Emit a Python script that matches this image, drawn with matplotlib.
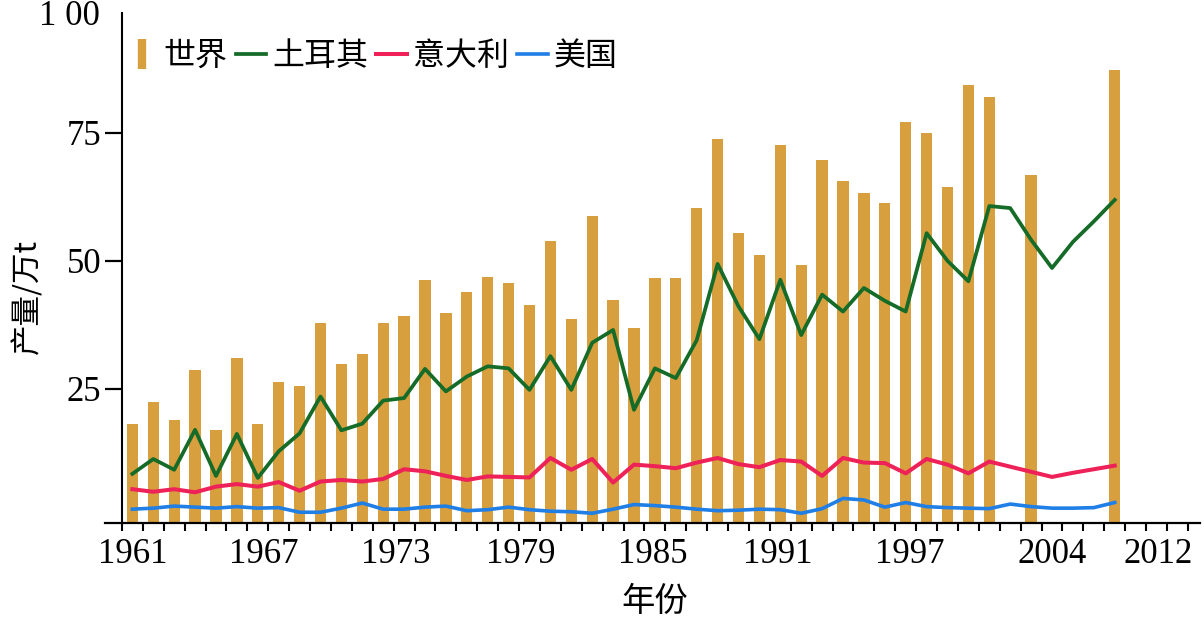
import matplotlib
matplotlib.use("Agg")
import matplotlib.pyplot as plt
from matplotlib.lines import Line2D
from matplotlib.font_manager import FontProperties
import numpy as np

# ---------------- data ----------------
world_years = list(range(1961, 2003)) + [2004, 2008]
world = [18.1, 22.5, 18.9, 28.7, 17.0, 31.1, 18.1, 26.3, 25.5, 37.8,
         29.9, 31.8, 37.8, 39.3, 46.3, 39.9, 44.0, 46.8, 45.6, 41.3,
         53.8, 38.6, 58.8, 42.4, 36.9, 46.7, 46.7, 60.3, 73.8, 55.5,
         51.2, 72.7, 49.2, 69.7, 65.5, 63.2, 61.3, 77.2, 74.9, 64.5,
         84.4, 82.0, 66.8, 87.3]

line_years = list(range(1961, 2009))
turkey = [8.4, 11.3, 9.2, 17.0, 8.0, 16.2, 7.6, 12.8, 16.3, 23.5,
          16.9, 18.2, 22.7, 23.2, 28.9, 24.5, 27.4, 29.4, 29.0, 24.8,
          31.4, 24.8, 34.0, 36.5, 20.9, 29.0, 27.1, 34.5, 49.4, 41.1,
          34.7, 46.3, 35.5, 43.4, 40.1, 44.7, 42.2, 40.1, 55.4, 50.0,
          46.0, 60.7, 60.3, 54.1, 48.6, 53.7, 57.7, 61.9]
italy = [5.4, 4.9, 5.4, 4.8, 5.9, 6.4, 5.9, 6.8, 5.1, 6.9,
         7.2, 6.9, 7.4, 9.3, 8.9, 8.0, 7.2, 7.9, 7.8, 7.7,
         11.5, 9.2, 11.3, 6.7, 10.2, 9.9, 9.5, 10.6, 11.5, 10.3,
         9.7, 11.1, 10.8, 8.0, 11.5, 10.6, 10.5, 8.5, 11.3, 10.2,
         8.5, 10.8, 9.8, 8.8, 7.8, 8.6, 9.3, 10.0]
usa = [1.5, 1.7, 2.1, 1.9, 1.7, 2.0, 1.7, 1.8, 0.9, 0.9,
       1.7, 2.7, 1.5, 1.5, 1.9, 2.1, 1.2, 1.4, 1.9, 1.4,
       1.1, 1.0, 0.7, 1.5, 2.4, 2.2, 1.9, 1.5, 1.2, 1.3,
       1.5, 1.4, 0.7, 1.6, 3.6, 3.3, 1.9, 2.8, 2.0, 1.8,
       1.7, 1.6, 2.5, 2.0, 1.7, 1.7, 1.8, 2.8]

series_names = ["世界", "土耳其", "意大利", "美国"]
x_tick_labels = ["1961", "1967", "1973", "1979", "1985", "1991", "1997", "2004", "2012"]
y_ticks = [25, 50, 75]
y_tick_labels = ["25", "50", "75"]
y_top_label = "1 00"
x_title = "年份"
y_title = "产量/万t"

# ---------------- style ----------------
BAR = "#D79F3E"
GREEN = "#156B28"
PINK = "#EE2158"
BLUE = "#1F7FE6"
NUM_FONT = "Liberation Serif"
CJK_FONT = "Noto Sans CJK SC"
plt.rcParams["font.family"] = [NUM_FONT, CJK_FONT, "DejaVu Sans"]

# label positions along the axis (as drawn in the reference)
x_tick_pos = [1961.0, 1967.3, 1973.6, 1979.6, 1985.9, 1991.9, 1998.2, 2005.0, 2010.1]

W, H = 1204, 624
fig = plt.figure(figsize=(W / 100, H / 100), dpi=100)
ax = fig.add_axes([105 / W, 101 / H, 1095 / W, 510 / H])

ylo, yhi = -1.2, 98.4
ax.set_ylim(ylo, yhi)
ax.set_xlim(1959.69, 2012.08)

ax.bar(world_years, np.array(world) - ylo, bottom=ylo, width=0.54,
       color=BAR, zorder=1)
ax.plot(line_years, turkey, color=GREEN, lw=2.7, zorder=3)
ax.plot(line_years, italy, color=PINK, lw=2.9, zorder=3)
ax.plot(line_years, usa, color=BLUE, lw=2.6, zorder=3)

for s in ["top", "right"]:
    ax.spines[s].set_visible(False)
ax.spines["left"].set_position(("data", 1960.5))
ax.spines["left"].set_linewidth(1.5)
ax.spines["bottom"].set_linewidth(1.6)

ax.set_xticks(x_tick_pos)
ax.set_xticklabels(x_tick_labels)
ax.set_xticks(np.arange(1960.5, 2012.0, 1.0), minor=True)
ax.tick_params(axis="x", which="major", length=0, pad=11, labelsize=25)
ax.tick_params(axis="x", which="minor", length=6, width=1.5, direction="out")

ax.set_yticks(y_ticks)
ax.set_yticklabels(y_tick_labels)
ax.tick_params(axis="y", which="major", length=12, width=1.6, pad=3, labelsize=25)

ax.annotate(y_top_label, xy=(1960.5, 97.7), xycoords="data",
            xytext=(-16, 0), textcoords="offset points",
            ha="right", va="center", fontsize=25, annotation_clip=False)

handles = [
    Line2D([], [], marker="|", markersize=21, markeredgewidth=6, color=BAR, linestyle="None"),
    Line2D([], [], color=GREEN, lw=2.7),
    Line2D([], [], color=PINK, lw=2.9),
    Line2D([], [], color=BLUE, lw=2.6),
]
leg = ax.legend(handles, series_names, ncol=4, loc="upper left",
                bbox_to_anchor=(127 / W, 1 - 40 / H), bbox_transform=fig.transFigure,
                frameon=False, prop=FontProperties(family=CJK_FONT, size=23),
                handlelength=0.95, handletextpad=0.2, columnspacing=0.25,
                borderpad=0, borderaxespad=0)

fig.text(655 / W, 1 - 601 / H, x_title, ha="center", va="center",
         fontsize=24, family=CJK_FONT)
fig.text(28 / W, 1 - 297 / H, y_title, ha="center", va="center",
         rotation=90, fontsize=22, family=[CJK_FONT])

fig.savefig("out.png", dpi=100)
